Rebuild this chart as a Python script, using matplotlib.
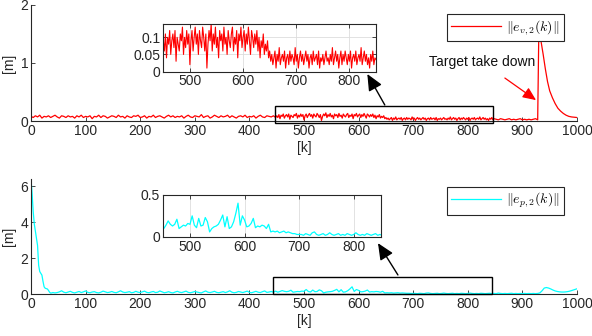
import numpy as np
import matplotlib
matplotlib.use("Agg")
import matplotlib.pyplot as plt
from matplotlib.patches import Rectangle

plt.rcParams['font.family'] = ['Liberation Sans', 'DejaVu Sans']
plt.rcParams['mathtext.fontset'] = 'cm'

# ---------------- data: ||e_v,2(k)|| ----------------
ev_part1 = [  # k = 0..448 step 4
    0.08,0.06,0.09,0.07,0.10,0.05,0.08,0.07,0.09,0.06,
    0.08,0.10,0.07,0.05,0.09,0.08,0.06,0.09,0.07,0.08,
    0.05,0.09,0.07,0.10,0.06,0.08,0.07,0.09,0.04,0.08,
    0.07,0.10,0.06,0.09,0.08,0.05,0.07,0.09,0.08,0.06,
    0.10,0.07,0.08,0.05,0.09,0.07,0.06,0.09,0.08,0.10,
    0.06,0.07,0.09,0.05,0.08,0.07,0.10,0.06,0.08,0.09,
    0.07,0.05,0.08,0.10,0.07,0.09,0.06,0.08,0.07,0.09,
    0.05,0.08,0.10,0.07,0.06,0.09,0.08,0.07,0.11,0.06,
    0.08,0.09,0.05,0.07,0.10,0.08,0.06,0.09,0.07,0.08,
    0.10,0.06,0.09,0.07,0.05,0.08,0.09,0.07,0.10,0.06,
    0.08,0.07,0.09,0.05,0.08,0.10,0.07,0.06,0.09,0.08,
    0.07,0.09,0.06]
ev_part2 = [  # k = 450..648 step 2
    0.09,0.06,0.11,0.04,0.10,0.08,0.12,0.05,0.09,0.11,
    0.07,0.12,0.03,0.10,0.08,0.06,0.11,0.09,0.13,0.05,
    0.10,0.07,0.12,0.08,0.11,0.02,0.09,0.12,0.06,0.10,
    0.13,0.08,0.11,0.05,0.12,0.09,0.07,0.13,0.10,0.06,
    0.11,0.01,0.08,0.12,0.09,0.14,0.06,0.11,0.08,0.13,
    0.07,0.10,0.04,0.12,0.09,0.11,0.06,0.13,0.08,0.10,
    0.05,0.12,0.09,0.07,0.11,0.13,0.06,0.10,0.08,0.12,
    0.04,0.11,0.09,0.13,0.07,0.10,0.12,0.06,0.11,0.08,
    0.13,0.09,0.05,0.12,0.10,0.07,0.11,0.08,0.12,0.06,
    0.10,0.04,0.09,0.07,0.11,0.05,0.08,0.06,0.09,0.04]
ev_part3 = [  # k = 650..848 step 2
    0.06,0.03,0.05,0.02,0.04,0.06,0.01,0.05,0.03,0.07,
    0.02,0.04,0.05,0.03,0.06,0.01,0.04,0.05,0.02,0.06,
    0.03,0.05,0.04,0.02,0.07,0.03,0.05,0.01,0.04,0.06,
    0.03,0.05,0.02,0.04,0.06,0.03,0.05,0.01,0.04,0.05,
    0.02,0.06,0.03,0.04,0.05,0.02,0.06,0.01,0.04,0.03,
    0.05,0.02,0.04,0.06,0.03,0.04,0.02,0.05,0.03,0.07,
    0.02,0.04,0.06,0.03,0.05,0.01,0.04,0.06,0.02,0.05,
    0.03,0.06,0.04,0.02,0.05,0.03,0.06,0.01,0.04,0.05,
    0.03,0.06,0.02,0.04,0.05,0.03,0.07,0.02,0.04,0.06,
    0.03,0.05,0.02,0.04,0.01,0.05,0.03,0.06,0.02,0.04]
ev_part4 = [  # k = 852..928 step 4
    0.03,0.02,0.04,0.03,0.02,0.03,0.04,0.02,0.03,0.02,
    0.03,0.04,0.02,0.03,0.02,0.03,0.02,0.03,0.04,0.02]
ev_spike_k = [930, 934, 938, 942, 946, 950, 955, 960, 965, 970, 975, 980, 985, 990, 1000]
ev_spike = [1.50, 1.38, 1.15, 0.90, 0.68, 0.52, 0.40, 0.30, 0.22, 0.17, 0.13, 0.10, 0.08, 0.07, 0.06]

# ---------------- data: ||e_p,2(k)|| ----------------
ep_init_k = [0, 2, 4, 6, 8, 10, 12, 14, 16, 18, 20, 22, 24, 26, 28, 30, 32, 34, 36, 38, 40]
ep_init = [6.4, 5.6, 4.6, 3.9, 3.5, 3.1, 2.7, 1.6, 1.25, 1.15, 1.05, 0.7, 0.4, 0.32, 0.3, 0.28, 0.2, 0.1, 0.05, 0.06, 0.08]
ep_part1 = [  # k = 44..448 step 4
    0.06,0.08,0.12,0.18,0.10,0.07,0.11,0.15,0.09,0.06,
    0.10,0.14,0.08,0.12,0.17,0.09,0.07,0.11,0.13,0.08,
    0.06,0.10,0.16,0.12,0.08,0.10,0.14,0.09,0.07,0.12,
    0.18,0.11,0.08,0.10,0.13,0.07,0.09,0.15,0.10,0.08,
    0.12,0.16,0.09,0.07,0.11,0.14,0.08,0.10,0.17,0.12,
    0.07,0.09,0.13,0.08,0.06,0.11,0.15,0.10,0.08,0.12,
    0.16,0.09,0.07,0.10,0.14,0.11,0.08,0.06,0.12,0.17,
    0.10,0.08,0.11,0.15,0.09,0.07,0.10,0.13,0.08,0.12,
    0.18,0.10,0.07,0.09,0.14,0.11,0.08,0.12,0.16,0.09,
    0.07,0.11,0.15,0.10,0.08,0.13,0.17,0.09,0.11,0.14,
    0.10,0.16]
ep_part2 = [  # k = 452..700 step 4
    0.10,0.14,0.19,0.15,0.13,0.15,0.21,0.10,0.12,0.14,
    0.13,0.16,0.15,0.25,0.14,0.11,0.22,0.13,0.14,0.23,
    0.18,0.06,0.10,0.12,0.13,0.15,0.20,0.26,0.12,0.24,
    0.10,0.12,0.18,0.28,0.40,0.14,0.25,0.20,0.12,0.13,
    0.16,0.22,0.11,0.13,0.12,0.14,0.13,0.10,0.15,0.06,
    0.07,0.06,0.07,0.05,0.06,0.07,0.05,0.06,0.05,0.04,
    0.04,0.03,0.03]
ep_part3 = [  # k = 704..928 step 4
    0.03,0.02,0.04,0.03,0.02,0.05,0.06,0.03,0.02,0.03,
    0.04,0.02,0.03,0.05,0.03,0.02,0.03,0.04,0.02,0.03,
    0.02,0.04,0.03,0.02,0.03,0.05,0.03,0.02,0.03,0.02,
    0.04,0.03,0.02,0.03,0.04,0.02,0.03,0.02,0.05,0.03,
    0.02,0.03,0.02,0.03,0.04,0.02,0.03,0.02,0.03,0.02,
    0.03,0.02,0.03,0.02,0.03,0.02,0.03]
ep_end_k = [932, 936, 940, 944, 948, 952, 956, 960, 964, 968, 972, 976, 980, 984, 988, 992, 996, 1000]
ep_end = [0.06, 0.18, 0.33, 0.36, 0.33, 0.28, 0.22, 0.17, 0.14, 0.12, 0.11, 0.11, 0.12, 0.14, 0.17, 0.21, 0.25, 0.29]

k_ev = np.concatenate([np.arange(0, 449, 4), np.arange(450, 649, 2), np.arange(650, 849, 2),
                       np.arange(852, 929, 4), ev_spike_k])
ev = np.concatenate([ev_part1, ev_part2, ev_part3, ev_part4, ev_spike])
k_ep = np.concatenate([ep_init_k, np.arange(44, 449, 4), np.arange(452, 701, 4), np.arange(704, 929, 4), ep_end_k])
ep = np.concatenate([ep_init, ep_part1, ep_part2, ep_part3, ep_end])

TXT = '#262626'
W, H = 592, 336
fig = plt.figure(figsize=(W / 100, H / 100), dpi=100)

def fr(l, t, r, b):
    return [l / W, 1 - b / H, (r - l) / W, (b - t) / H]

def style_main(ax):
    for s in ['top', 'right']:
        ax.spines[s].set_visible(False)
    for s in ['left', 'bottom']:
        ax.spines[s].set_color(TXT)
        ax.spines[s].set_linewidth(0.8)
    ax.tick_params(direction='in', length=3, width=0.6, colors=TXT, labelsize=10, pad=2)

def style_inset(ax):
    for s in ax.spines.values():
        s.set_color(TXT)
        s.set_linewidth(0.8)
    ax.tick_params(direction='in', length=3, width=0.6, colors=TXT, labelsize=10,
                   top=True, right=True, pad=2)
    ax.grid(True, color='#dddddd', linewidth=0.6)
    ax.set_axisbelow(True)

# ---------- top ----------
ax1 = fig.add_axes(fr(31, 5, 577, 121))
ax1.plot(k_ev, ev, color='red', lw=0.9, label=r'$\Vert e_{v,2}(k)\Vert$')
ax1.set_xlim(0, 1000)
ax1.set_ylim(0, 2)
ax1.set_xticks(np.arange(0, 1001, 100))
ax1.set_yticks([0, 1, 2])
style_main(ax1)
ax1.set_ylabel('[m]', fontsize=10, color=TXT, labelpad=3)
ax1.set_xlabel('[k]', fontsize=10, color=TXT, labelpad=2)
leg = ax1.legend(loc='upper right', bbox_to_anchor=(564 / W, 1 - 14 / H), bbox_transform=fig.transFigure,
                 fancybox=False, framealpha=1, edgecolor=TXT, handlelength=3.6, fontsize=10,
                 borderpad=0.3, handletextpad=0.4, borderaxespad=0)
leg.get_frame().set_linewidth(0.8)
ax1.add_patch(Rectangle((447, -0.03), 846 - 447, 0.29, fill=False, edgecolor='black', lw=1.0, clip_on=False, zorder=5))
ax1.annotate('', xy=(616, 0.81), xytext=(648, 0.276),
             arrowprops=dict(arrowstyle='-|>,head_length=1.0,head_width=0.45', color='black', lw=1.0, shrinkA=0, shrinkB=0),
             annotation_clip=False)
ax1.annotate('Target take down', xy=(925, 0.36), xytext=(826, 1.02), ha='center', va='center',
             fontsize=10, color='#111111',
             arrowprops=dict(arrowstyle='-|>,head_length=0.8,head_width=0.35', color='red', lw=0.9,
                             shrinkA=8, shrinkB=0),
             annotation_clip=False)

axi1 = fig.add_axes(fr(163.3, 23.7, 376, 71.5))
axi1.plot(k_ev, ev, color='red', lw=0.8)
axi1.set_xlim(450, 850)
axi1.set_ylim(0, 0.14)
axi1.set_xticks([500, 600, 700, 800])
axi1.set_yticks([0, 0.05, 0.1])
axi1.set_yticklabels(['0', '0.05', '0.1'])
style_inset(axi1)

# ---------- bottom ----------
ax2 = fig.add_axes(fr(31, 179, 577, 294))
ax2.plot(k_ep, ep, color='cyan', lw=0.9, label=r'$\Vert e_{p,2}(k)\Vert$')
ax2.set_xlim(0, 1000)
ax2.set_ylim(0, 6.4)
ax2.set_xticks(np.arange(0, 1001, 100))
ax2.set_yticks([0, 2, 4, 6])
style_main(ax2)
ax2.set_ylabel('[m]', fontsize=10, color=TXT, labelpad=3)
ax2.set_xlabel('[k]', fontsize=10, color=TXT, labelpad=2)
leg2 = ax2.legend(loc='upper right', bbox_to_anchor=(564 / W, 1 - 187 / H), bbox_transform=fig.transFigure,
                  fancybox=False, framealpha=1, edgecolor=TXT, handlelength=3.6, fontsize=10,
                  borderpad=0.3, handletextpad=0.4, borderaxespad=0)
leg2.get_frame().set_linewidth(0.8)
ax2.add_patch(Rectangle((443, -0.02), 845 - 443, 0.95, fill=False, edgecolor='black', lw=1.0, clip_on=False, zorder=5))
ax2.annotate('', xy=(635.5, 2.83), xytext=(672, 1.06),
             arrowprops=dict(arrowstyle='-|>,head_length=1.0,head_width=0.45', color='black', lw=1.0, shrinkA=0, shrinkB=0),
             annotation_clip=False)

axi2 = fig.add_axes(fr(162.7, 194.7, 381, 237))
axi2.plot(k_ep, ep, color='cyan', lw=0.9)
axi2.set_xlim(450, 850)
axi2.set_ylim(0, 0.5)
axi2.set_xticks([500, 600, 700, 800])
axi2.set_yticks([0, 0.5])
axi2.set_yticklabels(['0', '0.5'])
style_inset(axi2)

fig.savefig('out.png', dpi=100)
